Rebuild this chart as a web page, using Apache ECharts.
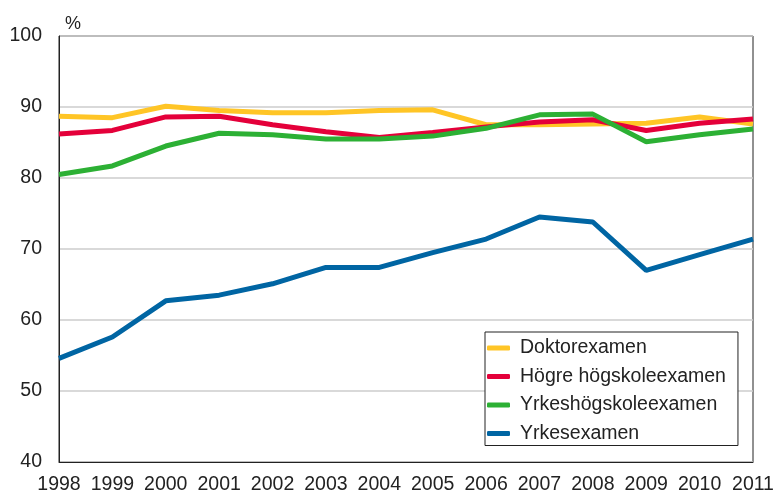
<!DOCTYPE html>
<html>
<head>
<meta charset="utf-8">
<script src="https://cdn.jsdelivr.net/npm/echarts@6/dist/echarts.min.js"></script>
<style>
  html, body { margin: 0; padding: 0; background: #fff; }
  #chart { width: 776px; height: 493px; }
</style>
</head>
<body>
<div id="chart"></div>
<script>
// år
var years = ['1998', '1999', '2000', '2001', '2002', '2003', '2004', '2005', '2006', '2007', '2008', '2009', '2010', '2011'];
// serier (%)
var doktor = [88.7, 88.5, 90.1, 89.5, 89.2, 89.2, 89.5, 89.6, 87.5, 87.5, 87.6, 87.7, 88.6, 87.6];
var hogre = [86.2, 86.7, 88.6, 88.7, 87.5, 86.5, 85.7, 86.4, 87.2, 87.9, 88.2, 86.7, 87.7, 88.3];
var yrkesHogskola = [80.5, 81.7, 84.5, 86.3, 86.1, 85.5, 85.5, 85.9, 87.0, 88.9, 89.0, 85.1, 86.1, 86.9];
var yrkes = [54.6, 57.6, 62.7, 63.5, 65.1, 67.4, 67.4, 69.5, 71.4, 74.5, 73.8, 67.0, 69.2, 71.4];

var names = ['Doktorexamen', 'Högre högskoleexamen', 'Yrkeshögskoleexamen', 'Yrkesexamen'];
var colors = ['#ffc526', '#e4003a', '#2cb034', '#0065a3'];
var allData = [doktor, hogre, yrkesHogskola, yrkes];

var font = 'Arial, "Liberation Sans", sans-serif';

var chart = echarts.init(document.getElementById('chart'));

var series = [];
for (var i = 0; i < names.length; i++) {
    series.push({
        name: names[i],
        type: 'line',
        data: allData[i],
        showSymbol: false,
        symbol: 'none',
        lineStyle: { width: 5, color: colors[i] },
        itemStyle: { color: colors[i] },
        z: 2 + i
    });
}

chart.setOption({
    animation: false,
    color: colors,
    grid: {
        left: 59,
        right: 23,
        top: 36,
        bottom: 31,
        outerBoundsMode: 'none',
        containLabel: false,
        show: true,
        borderColor: '#222',
        borderWidth: 1
    },
    title: {
        text: '%',
        left: 60,
        top: 10,
        textStyle: { fontFamily: font, fontSize: 18, fontWeight: 'normal', color: '#222' }
    },
    legend: {
        orient: 'vertical',
        left: 485,
        top: 332,
        data: names,
        icon: 'roundRect',
        itemWidth: 23,
        itemHeight: 5,
        itemGap: 8.5,
        padding: [6, 12, 2, 2],
        backgroundColor: '#fff',
        borderColor: '#222',
        borderWidth: 1,
        textStyle: {
            fontFamily: font,
            fontSize: 19.5,
            lineHeight: 20,
            color: '#222',
            padding: [0, 0, 0, 5]
        }
    },
    xAxis: {
        type: 'category',
        data: years,
        boundaryGap: false,
        axisLine: { lineStyle: { color: '#222', width: 1 } },
        axisTick: { show: false },
        axisLabel: {
            margin: 13,
            fontFamily: font,
            fontSize: 19.5,
            color: '#222',
            interval: 0
        },
        splitLine: { show: false }
    },
    yAxis: {
        type: 'value',
        min: 40,
        max: 100,
        interval: 10,
        axisLine: { show: true, lineStyle: { color: '#222', width: 1 } },
        axisTick: { show: false },
        axisLabel: {
            margin: 17,
            fontFamily: font,
            fontSize: 19.5,
            color: '#222'
        },
        splitLine: { lineStyle: { color: '#cccccc', width: 1.5 } }
    },
    series: series
});
</script>
</body>
</html>
